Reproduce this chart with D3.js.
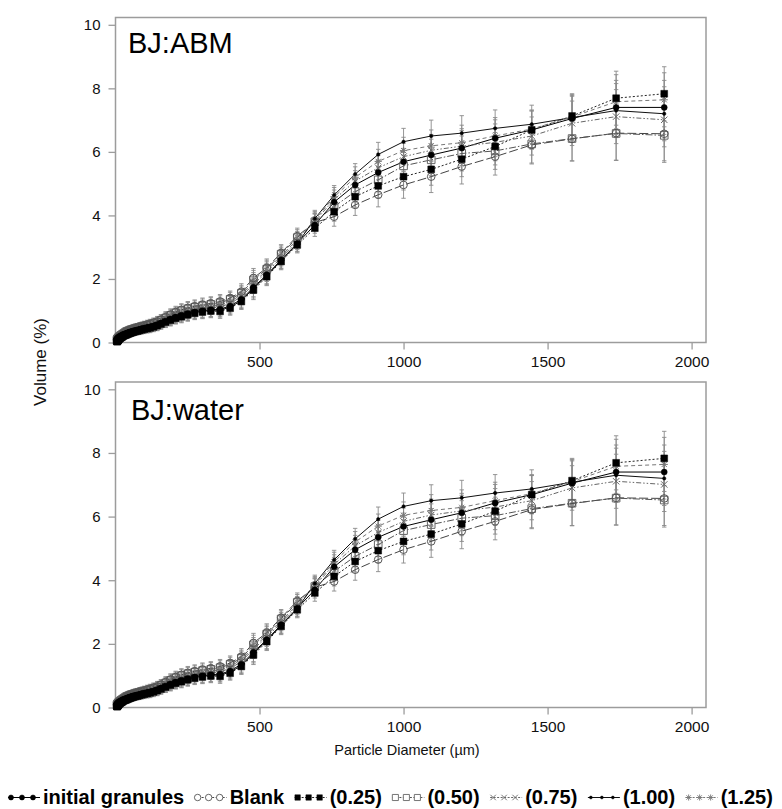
<!DOCTYPE html>
<html>
<head>
<meta charset="utf-8">
<script src="https://cdn.jsdelivr.net/npm/d3@7"></script>
<style>
  body { margin: 0; background: #fff; }
  svg { display: block; font-family: "Liberation Sans", Arial, sans-serif; }
</style>
</head>
<body>
<svg id="chart" width="782" height="809"></svg>
<script>
// Particle diameter bins (µm), laser diffraction size classes
const diameters = [5.25, 5.75, 6.31, 6.92, 7.59, 8.32, 9.12, 10.0, 11.0, 12.0, 13.2, 14.5, 15.8, 17.4, 19.1, 20.9, 22.9, 25.1, 27.5, 30.2, 33.1,
  36.3, 39.8, 43.7, 47.9, 52.5, 57.5, 63.1, 69.2, 75.9, 83.2, 91.2, 100, 110, 120, 132,
  145, 158, 174, 191, 209, 229, 251, 275, 302, 331, 363, 398, 437, 479, 525, 575, 631, 692,
  759, 832, 912, 1000, 1096, 1202, 1318, 1445, 1585, 1738, 1905];

// Volume (%) per size class for each treatment
const initialGranules = [0.04,0.05,0.06,0.07,0.08,0.09,0.10,0.11,0.12,0.13,0.14,0.15,0.16,0.17,0.19,0.20,0.21,0.22,0.23,0.25,0.26,
  0.27,0.29,0.30,0.32,0.33,0.35,0.36,0.38,0.39,0.41,0.43,0.45,0.47,0.49,0.52,
  0.56,0.61,0.67,0.74,0.80,0.86,0.91,0.96,1.00,1.03,1.05,1.15,1.36,1.74,2.13,2.60,3.12,3.70,
  4.42,4.96,5.35,5.69,5.90,6.12,6.43,6.69,7.05,7.40,7.40];
const blank = [0.08,0.09,0.10,0.11,0.12,0.13,0.14,0.15,0.16,0.17,0.18,0.19,0.20,0.21,0.23,0.24,0.25,0.27,0.28,0.30,0.32,
  0.34,0.36,0.37,0.39,0.41,0.42,0.44,0.46,0.47,0.49,0.51,0.53,0.56,0.58,0.62,
  0.66,0.72,0.80,0.88,0.96,1.03,1.09,1.14,1.19,1.23,1.29,1.40,1.60,2.03,2.35,2.82,3.35,3.78,
  3.96,4.33,4.65,4.96,5.22,5.54,5.85,6.22,6.41,6.59,6.57];
const dose025 = [0.03,0.03,0.04,0.05,0.06,0.07,0.08,0.09,0.10,0.11,0.12,0.13,0.14,0.15,0.16,0.17,0.18,0.19,0.21,0.22,0.23,
  0.24,0.25,0.27,0.28,0.30,0.31,0.33,0.35,0.36,0.38,0.40,0.42,0.44,0.46,0.49,
  0.53,0.58,0.64,0.70,0.76,0.81,0.87,0.92,0.96,0.99,0.98,1.08,1.29,1.65,2.07,2.55,3.07,3.60,
  4.12,4.59,4.93,5.22,5.45,5.77,6.17,6.69,7.13,7.69,7.83];
const dose050 = [0.07,0.08,0.09,0.10,0.11,0.12,0.13,0.14,0.15,0.16,0.17,0.18,0.19,0.20,0.22,0.23,0.24,0.26,0.27,0.29,0.31,
  0.33,0.35,0.36,0.38,0.40,0.41,0.43,0.45,0.46,0.48,0.50,0.52,0.54,0.57,0.60,
  0.64,0.70,0.77,0.85,0.93,1.00,1.06,1.11,1.16,1.20,1.25,1.36,1.55,1.97,2.31,2.78,3.30,3.80,
  4.28,4.75,5.12,5.56,5.75,5.95,6.03,6.25,6.42,6.58,6.52];
const dose075 = [0.05,0.06,0.07,0.08,0.09,0.10,0.11,0.12,0.13,0.14,0.15,0.16,0.17,0.18,0.20,0.21,0.22,0.24,0.25,0.26,0.28,
  0.30,0.31,0.33,0.34,0.36,0.37,0.39,0.41,0.42,0.44,0.46,0.48,0.50,0.52,0.55,
  0.59,0.64,0.70,0.77,0.84,0.90,0.96,1.01,1.05,1.09,1.12,1.23,1.44,1.84,2.20,2.67,3.18,3.82,
  4.50,5.08,5.50,5.85,6.05,6.18,6.30,6.50,6.90,7.11,7.01];
const dose100 = [0.04,0.04,0.05,0.06,0.07,0.08,0.09,0.10,0.11,0.12,0.13,0.14,0.15,0.16,0.18,0.19,0.20,0.21,0.22,0.24,0.25,
  0.26,0.28,0.29,0.31,0.32,0.34,0.35,0.37,0.38,0.40,0.42,0.44,0.46,0.48,0.50,
  0.54,0.59,0.65,0.72,0.78,0.83,0.89,0.94,0.98,1.01,1.02,1.11,1.32,1.70,2.10,2.58,3.10,3.90,
  4.64,5.30,5.92,6.32,6.50,6.59,6.74,6.87,7.08,7.30,7.20];
const dose125 = [0.06,0.07,0.08,0.09,0.10,0.11,0.12,0.13,0.14,0.15,0.16,0.17,0.18,0.19,0.21,0.22,0.23,0.25,0.26,0.27,0.29,
  0.31,0.33,0.34,0.36,0.38,0.39,0.41,0.43,0.44,0.46,0.48,0.50,0.52,0.54,0.57,
  0.61,0.66,0.73,0.81,0.88,0.94,1.00,1.05,1.10,1.14,1.18,1.29,1.50,1.90,2.26,2.72,3.24,3.86,
  4.58,5.20,5.70,6.04,6.19,6.29,6.50,6.72,7.10,7.58,7.64];

// Standard deviation per size class (error bars)
const errorSD = [0.03,0.03,0.03,0.04,0.04,0.04,0.04,0.05,0.05,0.05,0.05,0.06,0.06,0.06,0.06,0.07,0.07,0.07,0.08,0.08,0.08,
  0.09,0.09,0.10,0.10,0.10,0.11,0.11,0.12,0.12,0.13,0.13,0.14,0.14,0.15,0.15,
  0.16,0.16,0.17,0.18,0.18,0.19,0.20,0.20,0.21,0.21,0.22,0.22,0.25,0.30,0.28,0.26,0.25,0.26,
  0.30,0.33,0.38,0.42,0.50,0.55,0.58,0.60,0.70,0.85,0.85];

const seriesNames = ["initial granules", "Blank", "(0.25)", "(0.50)", "(0.75)", "(1.00)", "(1.25)"];
const seriesValues = [initialGranules, blank, dose025, dose050, dose075, dose100, dose125];
const panelLabels = ["BJ:ABM", "BJ:water"];
const xTicks = [500, 1000, 1500, 2000];
const yTicks = [0, 2, 4, 6, 8, 10];
const xTitle = "Particle Diameter (\u00b5m)";
const yTitle = "Volume (%)";

// Drawing style of each treatment: marker, line dash, colour
const styles = [
  { marker: "dot",      size: 3.0, fill: "#000", stroke: "#000", dash: null,            lineColor: "#000" },
  { marker: "circle",   size: 3.8, fill: "none", stroke: "#555", dash: "9,3",           lineColor: "#444" },
  { marker: "square",   size: 6.8, fill: "#000", stroke: "#000", dash: "2,2",           lineColor: "#222" },
  { marker: "square",   size: 7.6, fill: "none", stroke: "#666", dash: "7,2,1.5,2",     lineColor: "#555" },
  { marker: "x",        size: 3.2, fill: "none", stroke: "#666", dash: "5,2,1.5,2,1.5,2", lineColor: "#666" },
  { marker: "dot",      size: 1.7, fill: "#000", stroke: "#000", dash: null,            lineColor: "#111" },
  { marker: "asterisk", size: 3.6, fill: "none", stroke: "#777", dash: "4,3",           lineColor: "#777" }
];

function markerPath(type, s) {
  switch (type) {
    case "square": { const h = s / 2; return `M${-h},${-h}h${s}v${s}h${-s}Z`; }
    case "x": return `M${-s},${-s}L${s},${s}M${-s},${s}L${s},${-s}`;
    case "asterisk": {
      const d = s * 0.72;
      return `M0,${-s}V${s}M${-s},0H${s}M${-d},${-d}L${d},${d}M${-d},${d}L${d},${-d}`;
    }
    default: return d3.symbol(d3.symbolCircle, Math.PI * s * s)();
  }
}

const svg = d3.select("#chart");
const frameColor = "#9c9c9c";

const x = d3.scaleLinear().domain([0, 2050]).range([115.5, 706]);

const panels = [
  { label: panelLabels[0], y: d3.scaleLinear().domain([0, 10.23]).range([342.5, 17.5]), lx: 128, ly: 53 },
  { label: panelLabels[1], y: d3.scaleLinear().domain([0, 10.23]).range([707.5, 382]), lx: 131, ly: 420 }
];

panels.forEach(p => {
  const g = svg.append("g");
  const [yBottom, yTop] = p.y.range();

  // y axis
  const yAxis = g.append("g")
    .attr("transform", `translate(${x.range()[0]},0)`)
    .call(d3.axisLeft(p.y).tickValues(yTicks).tickSize(7).tickPadding(8).tickFormat(d3.format("d")));
  yAxis.select(".domain").remove();
  yAxis.selectAll(".tick line").attr("stroke", frameColor).attr("stroke-width", 1.3);
  yAxis.selectAll(".tick text").attr("font-size", 15).attr("fill", "#111")
    .attr("font-family", "'Liberation Sans', Arial, sans-serif");

  // x axis
  const xAxis = g.append("g")
    .attr("transform", `translate(0,${yBottom})`)
    .call(d3.axisBottom(x).tickValues(xTicks).tickSize(7).tickPadding(6).tickFormat(d3.format("d")));
  xAxis.select(".domain").remove();
  xAxis.selectAll(".tick line").attr("stroke", frameColor).attr("stroke-width", 1.3);
  xAxis.selectAll(".tick text").attr("font-size", 15.5).attr("fill", "#111")
    .attr("font-family", "'Liberation Sans', Arial, sans-serif");

  // plot frame
  g.append("rect")
    .attr("x", x.range()[0]).attr("y", yTop)
    .attr("width", x.range()[1] - x.range()[0]).attr("height", yBottom - yTop)
    .attr("fill", "none").attr("stroke", frameColor).attr("stroke-width", 1.5);

  // error bars for every treatment
  const capW = 2.2;
  seriesValues.forEach(vals => {
    const eg = g.append("g").attr("stroke", "#8a8a8a").attr("stroke-width", 0.9).attr("fill", "none");
    eg.selectAll("path").data(vals).join("path")
      .attr("d", (v, i) => {
        const cx = x(diameters[i]);
        const y1 = p.y(v + errorSD[i]), y2 = p.y(v - errorSD[i]);
        return `M${cx},${y1}V${y2}M${cx - capW},${y1}H${cx + capW}M${cx - capW},${y2}H${cx + capW}`;
      });
  });

  // lines
  const line = d3.line().x((v, i) => x(diameters[i])).y(v => p.y(v));
  seriesValues.forEach((vals, s) => {
    const st = styles[s];
    g.append("path").datum(vals)
      .attr("d", line)
      .attr("fill", "none")
      .attr("stroke", st.lineColor)
      .attr("stroke-width", 1)
      .attr("stroke-dasharray", st.dash);
  });

  // markers (open symbols first so the filled ones sit on top)
  const order = [6, 4, 3, 1, 0, 5, 2];
  order.forEach(s => {
    const st = styles[s];
    g.append("g").selectAll("path").data(seriesValues[s]).join("path")
      .attr("transform", (v, i) => `translate(${x(diameters[i])},${p.y(v)})`)
      .attr("d", markerPath(st.marker, st.size))
      .attr("fill", st.fill === "none" ? (st.marker === "circle" || st.marker === "square" ? "#fff" : "none") : st.fill)
      .attr("fill-opacity", st.fill === "none" ? 0 : 1)
      .attr("stroke", st.stroke)
      .attr("stroke-width", st.fill === "none" ? 1 : 0.5);
  });

  // panel label
  g.append("text")
    .attr("x", p.lx).attr("y", p.ly)
    .attr("font-size", 29).attr("fill", "#000")
    .text(p.label);
});

// axis titles
svg.append("text")
  .attr("x", 407).attr("y", 755)
  .attr("text-anchor", "middle").attr("font-size", 14.5).attr("fill", "#111")
  .text(xTitle);

svg.append("text")
  .attr("transform", "translate(46,362) rotate(-90)")
  .attr("text-anchor", "middle").attr("font-size", 17).attr("fill", "#111")
  .text(yTitle);

// legend along the bottom
const legend = svg.append("g").attr("transform", "translate(0,804)");
let lx = 7;
seriesNames.forEach((name, s) => {
  const st = styles[s];
  const item = legend.append("g").attr("transform", `translate(${lx},0)`);
  const sy = -6.5;
  item.append("line")
    .attr("x1", 1).attr("x2", 33).attr("y1", sy).attr("y2", sy)
    .attr("stroke", st.lineColor).attr("stroke-width", 1)
    .attr("stroke-dasharray", st.dash ? "2,1.5" : null);
  [4, 15, 26].forEach(mx => {
    item.append("path")
      .attr("transform", `translate(${mx},${sy})`)
      .attr("d", markerPath(st.marker, st.marker === "square" ? st.size * 0.8 : st.size * 0.85))
      .attr("fill", st.fill === "none" ? "#fff" : st.fill)
      .attr("fill-opacity", st.fill === "none" && !(st.marker === "circle" || st.marker === "square") ? 0 : 1)
      .attr("stroke", st.stroke).attr("stroke-width", st.fill === "none" ? 0.9 : 0.5);
  });
  const t = item.append("text")
    .attr("x", 36).attr("y", 0)
    .attr("font-size", 20).attr("font-weight", "bold").attr("fill", "#000")
    .text(name);
  lx += 36 + t.node().getComputedTextLength() + 9.5;
});
</script>
</body>
</html>
